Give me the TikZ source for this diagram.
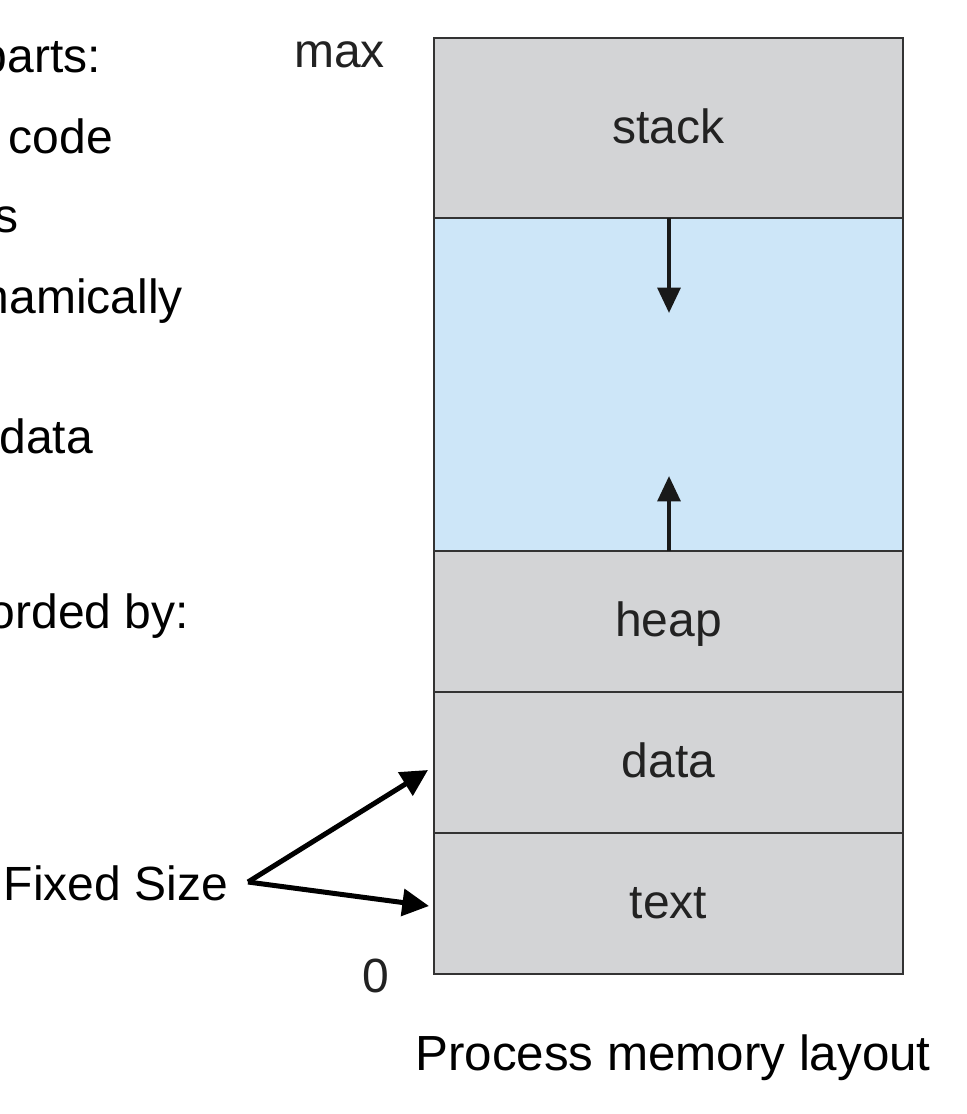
\documentclass[tikz,border=0pt]{standalone}
\usepackage{fontspec}
\setmainfont{Liberation Sans}
\usetikzlibrary{arrows.meta}
\definecolor{segfill}{HTML}{D3D4D6}
\definecolor{freefill}{HTML}{CDE6F8}
\definecolor{segline}{HTML}{333333}
\definecolor{labtext}{HTML}{222222}
\begin{document}
\begin{tikzpicture}[x=0.75pt,y=-0.75pt,
  every node/.style={font=\fontsize{36}{43}\selectfont,inner sep=0pt,outer sep=0pt},
  seg/.style={draw=segline,line width=1.6pt,fill=segfill,minimum width=351.75pt,
    text=labtext,text height=29pt,text depth=6.5pt},
  freeseg/.style={seg,fill=freefill},
  side/.style={anchor=base east,text=black},
  growarrow/.style={line width=3pt,draw=black!90,-{Triangle[length=19pt,width=17pt]}},
  fixarrow/.style={line width=3.75pt,-{Triangle[length=20pt,width=20pt]}}]
\useasboundingbox (0,0) rectangle (967,1114);
\clip (0,0) rectangle (967,1114);
\fill[white] (0,0) rectangle (967,1114);
% left text
\node[side] (t1) at (101,72) {parts:};
\node[side] (t2) at (113,153) {code};
\node[side] (t3) at (19,232) {s};
\node[side] (t4) at (183,313) {namically};
\node[side] (t5) at (93,453) {data};
\node[side] (t6) at (189,628) {orded by:};
\node[side] (fixed) at (228,900) {Fixed Size};
% memory layout
\node[seg,minimum height=135pt] (stack) at (668.5,128) {stack};
\node[freeseg,minimum height=249.75pt] (free) at (668.5,384.5) {};
\node[seg,minimum height=105.75pt] (heap) at (668.5,621.5) {heap};
\node[seg,minimum height=105.75pt] (data) at (668.5,762.5) {data};
\node[seg,minimum height=105.75pt] (text) at (668.5,903.5) {text};
\node[anchor=base east,text=labtext] (max) at (385,67) {max};
\node[anchor=base east,text=labtext] (zero) at (389,992) {0};
\node[anchor=base,font=\fontsize{37}{44}\selectfont] (caption) at (673,1070) {Process memory layout};
% growth arrows
\coordinate (stacktip) at (669,313);
\coordinate (heaptip) at (669,476);
\draw[growarrow] (stack.south -| stacktip) -- (stacktip);
\draw[growarrow] (heap.north -| heaptip) -- (heaptip);
% fixed size arrows
\coordinate (fsorigin) at (248,882);
\coordinate (datatip) at (428,770);
\coordinate (texttip) at (429,906);
\draw[fixarrow] (fsorigin) -- (datatip);
\draw[fixarrow] (fsorigin) -- (texttip);
\end{tikzpicture}
\end{document}
